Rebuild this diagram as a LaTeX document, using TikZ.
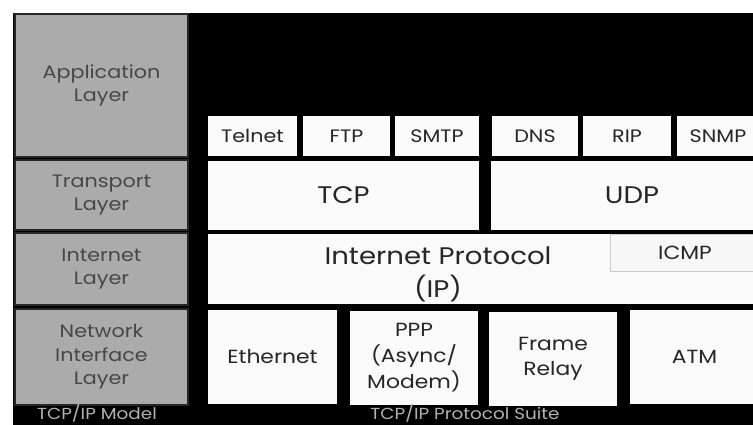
\documentclass[tikz,border=0pt]{standalone}
\usepackage{fontspec}
\setmainfont{Poppins}[FakeStretch=1.15]
\begin{document}
\begin{tikzpicture}[x=1pt,y=-1pt,
  graycell/.style={draw=black!85,line width=1.2pt,fill=black!33,text=black!72,align=center,inner sep=0pt,font=\fontsize{18}{23.5}\selectfont},
  whitecell/.style={draw=black,line width=1.2pt,fill=black!2,text=black!85,align=center,inner sep=0pt},
  small/.style={font=\fontsize{18}{20}\selectfont},
  big/.style={font=\fontsize{24}{33}\selectfont},
  mid/.style={font=\fontsize{19}{25}\selectfont},
  foot/.style={text=black!30,font=\fontsize{16}{18}\selectfont}]
\useasboundingbox (0,0) rectangle (753,425);
\fill[white] (0,0) rectangle (753,425);
\fill[black] (13,13) rectangle (760,430);
% gray model column
\node[graycell,minimum width=173pt,minimum height=143pt] (app) at (101.5,85.5) {Application\\Layer};
\node[graycell,minimum width=173pt,minimum height=70pt] (tra) at (101.5,195) {Transport\\Layer};
\node[graycell,minimum width=173pt,minimum height=72pt] (int) at (101.5,269) {Internet\\Layer};
\node[graycell,minimum width=173pt,minimum height=96pt] (net) at (101.5,357) {Network\\Interface\\Layer};
% application protocols
\node[whitecell,small,minimum width=91pt,minimum height=42pt] (telnet) at (252.5,136) {Telnet};
\node[whitecell,small,minimum width=89pt,minimum height=42pt] (ftp) at (346.5,136) {FTP};
\node[whitecell,small,minimum width=86pt,minimum height=42pt] (smtp) at (437,136) {SMTP};
\node[whitecell,small,minimum width=88pt,minimum height=42pt] (dns) at (535,136) {DNS};
\node[whitecell,small,minimum width=90pt,minimum height=42pt] (rip) at (627,136) {RIP};
\node[whitecell,small,minimum width=84pt,minimum height=42pt] (snmp) at (718,136) {SNMP};
% transport
\node[whitecell,big,minimum width=273pt,minimum height=71pt] (tcp) at (343.5,195.5) {TCP};
\node[whitecell,big,minimum width=284pt,minimum height=71pt] (udp) at (632,195.5) {UDP};
% internet
\node[whitecell,minimum width=555pt,minimum height=72pt] (ip) at (484.5,269) {};
\node[text=black!85,big,align=center,inner sep=0pt] (iptext) at (438,274) {Internet Protocol\\(IP)};
\node[draw=black!20,line width=0.8pt,fill=black!3,text=black!85,mid,inner sep=0pt,minimum width=150pt,minimum height=37pt] (icmp) at (685,252.5) {ICMP};
% network interface
\node[whitecell,mid,minimum width=131pt,minimum height=96pt] (eth) at (272.5,357) {Ethernet};
\node[whitecell,mid,minimum width=130pt,minimum height=96pt,font=\fontsize{19}{26}\selectfont] (ppp) at (414,358) {PPP\\(Async/\\Modem)};
\node[whitecell,mid,minimum width=130pt,minimum height=96pt,font=\fontsize{19}{25}\selectfont] (fr) at (553,359) {Frame\\Relay};
\node[whitecell,mid,minimum width=131pt,minimum height=96pt] (atm) at (694.5,357) {ATM};
% footers
\node[foot,inner sep=0pt] (model) at (97,413) {TCP/IP Model};
\node[foot,inner sep=0pt] (suite) at (465,413) {TCP/IP Protocol Suite};
\end{tikzpicture}
\end{document}
